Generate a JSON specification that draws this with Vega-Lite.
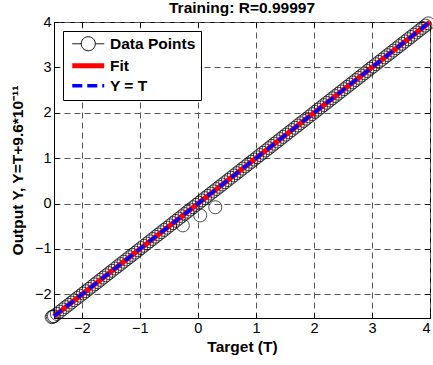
{
  "$schema": "https://vega.github.io/schema/vega-lite/v6.json",
  "width": 376,
  "height": 296,
  "autosize": {"type": "none"},
  "padding": {"left": 54, "top": 22, "right": 3, "bottom": 47},
  "background": "white",
  "config": {
    "font": "Liberation Sans",
    "view": {"stroke": "black", "strokeWidth": 1},
    "axis": {
      "domainColor": "black",
      "tickColor": "black",
      "gridColor": "#555555",
      "gridDash": [6, 4],
      "gridOpacity": 1,
      "gridWidth": 1,
      "labelFont": "Liberation Sans",
      "labelFontSize": 14.5,
      "labelColor": "black",
      "titleFont": "Liberation Sans",
      "titleFontSize": 15.5,
      "titleFontWeight": "bold",
      "titleColor": "black"
    }
  },
  "title": {
    "text": "Training: R=0.99997",
    "font": "Liberation Sans",
    "fontSize": 15.5,
    "fontWeight": "bold",
    "color": "black",
    "offset": -4
  },
  "datasets": {
    "points": [
      {"t": -2.52, "y": -2.5}, {"t": -2.5, "y": -2.49}, {"t": -2.48, "y": -2.48},
      {"t": -2.43, "y": -2.43}, {"t": -2.38, "y": -2.38}, {"t": -2.33, "y": -2.33},
      {"t": -2.28, "y": -2.28}, {"t": -2.23, "y": -2.23}, {"t": -2.18, "y": -2.18},
      {"t": -2.13, "y": -2.13}, {"t": -2.08, "y": -2.08}, {"t": -2.03, "y": -2.03},
      {"t": -1.98, "y": -1.98}, {"t": -1.93, "y": -1.93}, {"t": -1.88, "y": -1.88},
      {"t": -1.83, "y": -1.83}, {"t": -1.78, "y": -1.78}, {"t": -1.73, "y": -1.73},
      {"t": -1.68, "y": -1.68}, {"t": -1.63, "y": -1.63}, {"t": -1.58, "y": -1.58},
      {"t": -1.53, "y": -1.53}, {"t": -1.48, "y": -1.48}, {"t": -1.43, "y": -1.43},
      {"t": -1.38, "y": -1.38}, {"t": -1.33, "y": -1.33}, {"t": -1.28, "y": -1.28},
      {"t": -1.23, "y": -1.23}, {"t": -1.18, "y": -1.18}, {"t": -1.13, "y": -1.13},
      {"t": -1.08, "y": -1.08}, {"t": -1.03, "y": -1.03}, {"t": -0.98, "y": -0.98},
      {"t": -0.93, "y": -0.93}, {"t": -0.88, "y": -0.88}, {"t": -0.83, "y": -0.83},
      {"t": -0.78, "y": -0.78}, {"t": -0.73, "y": -0.73}, {"t": -0.68, "y": -0.68},
      {"t": -0.63, "y": -0.63}, {"t": -0.58, "y": -0.58}, {"t": -0.53, "y": -0.53},
      {"t": -0.48, "y": -0.48}, {"t": -0.43, "y": -0.43}, {"t": -0.38, "y": -0.38},
      {"t": -0.33, "y": -0.33}, {"t": -0.28, "y": -0.28}, {"t": -0.23, "y": -0.23},
      {"t": -0.18, "y": -0.18}, {"t": -0.13, "y": -0.13}, {"t": -0.08, "y": -0.08},
      {"t": -0.03, "y": -0.03}, {"t": 0.02, "y": 0.02}, {"t": 0.07, "y": 0.07},
      {"t": 0.12, "y": 0.12}, {"t": 0.17, "y": 0.17}, {"t": 0.22, "y": 0.22},
      {"t": 0.27, "y": 0.27}, {"t": 0.32, "y": 0.32}, {"t": 0.37, "y": 0.37},
      {"t": 0.42, "y": 0.42}, {"t": 0.47, "y": 0.47}, {"t": 0.52, "y": 0.52},
      {"t": 0.57, "y": 0.57}, {"t": 0.62, "y": 0.62}, {"t": 0.67, "y": 0.67},
      {"t": 0.72, "y": 0.72}, {"t": 0.77, "y": 0.77}, {"t": 0.82, "y": 0.82},
      {"t": 0.87, "y": 0.87}, {"t": 0.92, "y": 0.92}, {"t": 0.97, "y": 0.97},
      {"t": 1.02, "y": 1.02}, {"t": 1.07, "y": 1.07}, {"t": 1.12, "y": 1.12},
      {"t": 1.17, "y": 1.17}, {"t": 1.22, "y": 1.22}, {"t": 1.27, "y": 1.27},
      {"t": 1.32, "y": 1.32}, {"t": 1.37, "y": 1.37}, {"t": 1.42, "y": 1.42},
      {"t": 1.47, "y": 1.47}, {"t": 1.52, "y": 1.52}, {"t": 1.57, "y": 1.57},
      {"t": 1.62, "y": 1.62}, {"t": 1.67, "y": 1.67}, {"t": 1.72, "y": 1.72},
      {"t": 1.77, "y": 1.77}, {"t": 1.82, "y": 1.82}, {"t": 1.87, "y": 1.87},
      {"t": 1.92, "y": 1.92}, {"t": 1.97, "y": 1.97}, {"t": 2.02, "y": 2.02},
      {"t": 2.07, "y": 2.07}, {"t": 2.12, "y": 2.12}, {"t": 2.17, "y": 2.17},
      {"t": 2.22, "y": 2.22}, {"t": 2.27, "y": 2.27}, {"t": 2.32, "y": 2.32},
      {"t": 2.37, "y": 2.37}, {"t": 2.42, "y": 2.42}, {"t": 2.47, "y": 2.47},
      {"t": 2.52, "y": 2.52}, {"t": 2.57, "y": 2.57}, {"t": 2.62, "y": 2.62},
      {"t": 2.67, "y": 2.67}, {"t": 2.72, "y": 2.72}, {"t": 2.77, "y": 2.77},
      {"t": 2.82, "y": 2.82}, {"t": 2.87, "y": 2.87}, {"t": 2.92, "y": 2.92},
      {"t": 2.97, "y": 2.97}, {"t": 3.02, "y": 3.02}, {"t": 3.07, "y": 3.07},
      {"t": 3.12, "y": 3.12}, {"t": 3.17, "y": 3.17}, {"t": 3.22, "y": 3.22},
      {"t": 3.27, "y": 3.27}, {"t": 3.32, "y": 3.32}, {"t": 3.37, "y": 3.37},
      {"t": 3.42, "y": 3.42}, {"t": 3.47, "y": 3.47}, {"t": 3.52, "y": 3.52},
      {"t": 3.57, "y": 3.57}, {"t": 3.62, "y": 3.62}, {"t": 3.67, "y": 3.67},
      {"t": 3.72, "y": 3.72}, {"t": 3.77, "y": 3.77}, {"t": 3.82, "y": 3.82},
      {"t": 3.87, "y": 3.87}, {"t": 3.92, "y": 3.92}, {"t": 3.97, "y": 3.97},
      {"t": -0.26, "y": -0.48}, {"t": 0.04, "y": -0.26}, {"t": 0.30, "y": -0.08}
    ],
    "fit": [{"t": -2.48, "y": -2.48}, {"t": 4.0, "y": 4.0}]
  },
  "resolve": {"axis": {"x": "independent", "y": "independent"}},
  "layer": [
    {
      "data": {"name": "points"},
      "mark": {"type": "point", "shape": "circle", "filled": false, "size": 170, "strokeWidth": 1, "clip": false},
      "encoding": {
        "x": {
          "field": "t", "type": "quantitative",
          "scale": {"domain": [-2.48, 4], "nice": false, "zero": false},
          "axis": {"title": "Target (T)", "values": [-2, -1, 0, 1, 2, 3, 4], "tickSize": -5, "labelPadding": 8, "titlePadding": 5, "grid": true}
        },
        "y": {
          "field": "y", "type": "quantitative",
          "scale": {"domain": [-2.52, 4], "nice": false, "zero": false},
          "axis": {"title": "Output Y, Y=T+9.6*10⁻¹¹", "values": [-2, -1, 0, 1, 2, 3, 4], "tickSize": -5, "labelPadding": 8, "titlePadding": 9, "grid": true}
        },
        "color": {
          "datum": "Data Points",
          "type": "nominal",
          "scale": {"domain": ["Data Points", "Fit", "Y = T"], "range": ["black", "red", "blue"]},
          "legend": {
            "title": null,
            "orient": "top-left",
            "offset": 9,
            "padding": 5,
            "strokeColor": "black",
            "fillColor": "white",
            "labelFont": "Liberation Sans",
            "labelFontSize": 15.5,
            "labelFontWeight": "bold",
            "labelColor": "black",
            "labelOffset": 14,
            "symbolOffset": 12.5,
            "symbolSize": 1024,
            "rowPadding": 2,
            "symbolType": {"expr": "datum.value === 'Data Points' ? 'M-1,0H-0.44M0.44,0H1M0.44,0A0.44,0.44 0 1,1 -0.44,0A0.44,0.44 0 1,1 0.44,0' : 'stroke'"},
            "symbolFillColor": "transparent",
            "symbolStrokeWidth": {"expr": "datum.value === 'Data Points' ? 1 : datum.value === 'Fit' ? 5 : 3.5"},
            "symbolDash": {"expr": "datum.value === 'Y = T' ? [10, 5] : [1, 0]"},
            "symbolOpacity": 1
          }
        }
      }
    },
    {
      "data": {"name": "fit"},
      "mark": {"type": "line", "strokeWidth": 5},
      "encoding": {
        "x": {"field": "t", "type": "quantitative", "axis": {"orient": "top", "title": null, "labels": false, "values": [-2, -1, 0, 1, 2, 3, 4], "tickSize": -5, "grid": false, "domain": false, "minExtent": 0, "maxExtent": 0}},
        "y": {"field": "y", "type": "quantitative", "axis": {"orient": "right", "title": null, "labels": false, "values": [-2, -1, 0, 1, 2, 3, 4], "tickSize": -5, "grid": false, "domain": false, "minExtent": 0, "maxExtent": 0}},
        "color": {"datum": "Fit", "type": "nominal"}
      }
    },
    {
      "data": {"name": "fit"},
      "mark": {"type": "line", "strokeWidth": 3.5, "strokeDash": [10, 5]},
      "encoding": {
        "x": {"field": "t", "type": "quantitative", "axis": null},
        "y": {"field": "y", "type": "quantitative", "axis": null},
        "color": {"datum": "Y = T", "type": "nominal"}
      }
    }
  ]
}
